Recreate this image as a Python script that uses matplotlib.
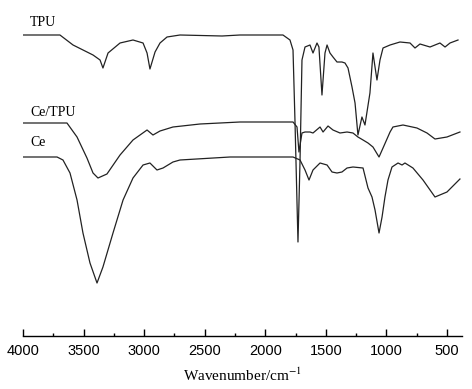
import numpy as np
import matplotlib
matplotlib.use("Agg")
import matplotlib.pyplot as plt
from matplotlib.ticker import MultipleLocator

plt.rcParams["mathtext.fontset"] = "stix"

# FTIR spectra (wavenumber in cm-1, arbitrary offset transmittance)
wn_tpu = [4000, 3695, 3587, 3422, 3364, 3340, 3298, 3199, 3092, 3009, 2976, 2952, 2910,
          2869, 2811, 2704, 2357, 2209, 1854, 1796, 1771, 1755, 1730, 1713, 1697, 1672,
          1631, 1606, 1573, 1557, 1532, 1507, 1490, 1466, 1441, 1408, 1367, 1342, 1317,
          1284, 1259, 1235, 1202, 1177, 1136, 1111, 1094, 1078, 1053, 1028, 970, 888,
          805, 764, 723, 640, 558, 516, 475, 409]
t_tpu = [301, 301, 291, 281, 276, 268, 283, 293, 296, 293, 283, 267, 284,
         293, 299, 301, 300, 301, 301, 296, 286, 216, 94, 176, 276, 289,
         291, 283, 293, 289, 241, 283, 291, 283, 279, 274, 274, 273, 268,
         249, 233, 201, 219, 211, 243, 283, 269, 256, 276, 288, 291, 294,
         293, 288, 292, 289, 293, 289, 293, 296]

wn_cetpu = [4000, 3637, 3554, 3472, 3422, 3381, 3307, 3199, 3092, 2976, 2927, 2869, 2762,
            2539, 2209, 1771, 1738, 1722, 1697, 1672, 1631, 1606, 1548, 1523, 1482, 1441,
            1383, 1325, 1276, 1235, 1193, 1152, 1111, 1061, 1028, 970, 946, 863, 748,
            665, 599, 500, 393]
t_cetpu = [213, 213, 199, 178, 163, 158, 162, 181, 196, 206, 201, 205, 209,
           212, 214, 214, 209, 184, 203, 204, 204, 203, 209, 204, 210, 206,
           203, 204, 203, 199, 196, 193, 189, 179, 188, 204, 209, 211, 208,
           203, 197, 199, 204]

wn_ce = [4000, 3719, 3670, 3612, 3554, 3505, 3447, 3389, 3340, 3257, 3174, 3092, 3009,
         2952, 2894, 2844, 2762, 2704, 2291, 1771, 1713, 1672, 1639, 1606, 1548, 1490,
         1449, 1408, 1367, 1325, 1276, 1193, 1152, 1119, 1094, 1061, 1036, 1012, 987,
         954, 904, 871, 847, 781, 698, 599, 500, 393]
t_ce = [179, 179, 176, 163, 136, 103, 73, 53, 69, 103, 136, 158, 171,
        173, 166, 168, 174, 176, 179, 179, 176, 166, 156, 166, 173, 171,
        164, 163, 164, 168, 169, 168, 148, 139, 126, 103, 119, 139, 156,
        169, 173, 171, 173, 168, 156, 139, 144, 157]

labels = ["TPU", "Ce/TPU", "Ce"]
label_y = [314, 224, 194]

fig = plt.figure(figsize=(4.72, 3.89), dpi=100)
ax = fig.add_axes([23 / 472, 53 / 389, 439 / 472, 326 / 389])

line_color = "#222222"
ax.plot(wn_tpu, t_tpu, color=line_color, lw=0.9)
ax.plot(wn_cetpu, t_cetpu, color=line_color, lw=0.9)
ax.plot(wn_ce, t_ce, color=line_color, lw=0.9)

for name, y in zip(labels, label_y):
    ax.text(3942, y, name, family="Liberation Serif", fontsize=10,
            ha="left", va="center")

ax.set_xlim(4000, 376)
ax.set_ylim(0, 326)

for side in ["left", "right", "top"]:
    ax.spines[side].set_visible(False)
ax.spines["bottom"].set_linewidth(1.0)
ax.set_yticks([])

ax.xaxis.set_major_locator(MultipleLocator(500))
ax.xaxis.set_minor_locator(MultipleLocator(250))
ax.tick_params(axis="x", which="major", direction="in", length=5, width=1.0, pad=6)
ax.tick_params(axis="x", which="minor", direction="in", length=2.5, width=1.0)
for lab in ax.get_xticklabels():
    lab.set_family("Liberation Sans")
    lab.set_fontsize(10.5)

ax.set_xlabel("Wavenumber/cm$^{-1}$", family="Liberation Serif", fontsize=11, labelpad=6)

fig.savefig("out.png", dpi=100)
